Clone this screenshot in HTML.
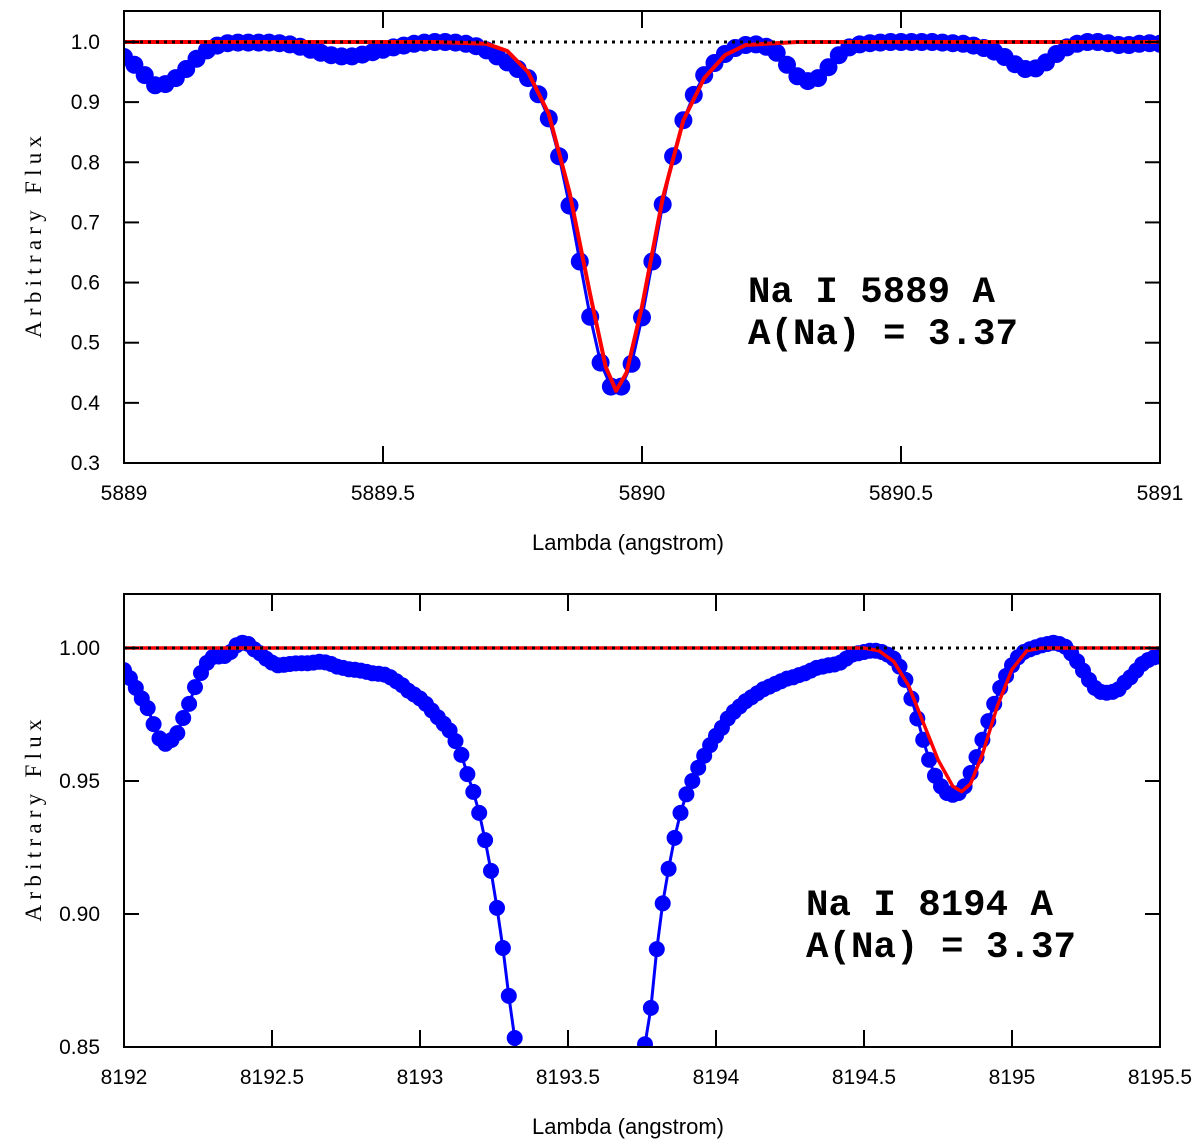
<!DOCTYPE html>
<html><head><meta charset="utf-8"><style>
html,body{margin:0;padding:0;background:#fff;overflow:hidden;width:1200px;height:1146px;}
svg{display:block;}
</style></head>
<body>
<svg id="chart" width="1200" height="1146" viewBox="0 0 1200 1146" xmlns="http://www.w3.org/2000/svg"></svg>
<script>
// ---------- TOP PANEL DATA ----------
const topWave = [];
const topStart = 5889.00, topStep = 0.02;
const topFlux = [0.975,0.962,0.945,0.928,0.93,0.94,0.955,0.972,0.986,0.994,
0.998,0.999,0.999,0.999,0.999,0.998,0.996,0.992,0.987,0.982,
0.978,0.976,0.976,0.979,0.983,0.987,0.991,0.994,0.997,0.999,
1.000,1.000,0.999,0.997,0.993,0.986,0.976,0.966,0.955,0.94,
0.913,0.873,0.81,0.728,0.635,0.543,0.467,0.427,0.427,0.465,
0.542,0.635,0.73,0.81,0.87,0.912,0.945,0.965,0.98,0.99,
0.995,0.996,0.992,0.982,0.962,0.943,0.935,0.94,0.958,0.978,
0.991,0.996,0.998,0.999,1.0,1.0,1.0,1.0,1.0,0.999,
0.998,0.997,0.994,0.99,0.984,0.975,0.963,0.955,0.956,0.966,
0.98,0.991,0.997,1.0,1.0,0.998,0.995,0.995,0.997,0.998,0.997];
for (let i = 0; i < topFlux.length; i++) topWave.push(+(topStart + i * topStep).toFixed(2));
const topModelWave = [5889.0,5889.6,5889.7,5889.74,5889.78,5889.82,5889.86,5889.90,5889.93,5889.95,5889.97,5890.0,5890.04,5890.08,5890.12,5890.16,5890.2,5890.3,5891.0];
const topModelFlux = [1,1,0.997,0.985,0.95,0.88,0.75,0.58,0.46,0.42,0.45,0.56,0.74,0.87,0.94,0.978,0.995,1,1];
const topXTicks = [5889,5889.5,5890,5890.5,5891];
const topXTickLabels = ["5889","5889.5","5890","5890.5","5891"];
const topYTicks = [0.3,0.4,0.5,0.6,0.7,0.8,0.9,1.0];
const topYTickLabels = ["0.3","0.4","0.5","0.6","0.7","0.8","0.9","1.0"];

// ---------- BOTTOM PANEL DATA ----------
const botWave = [];
const botStart = 8192.00, botStep = 0.02;
const botFlux = [0.9917,0.9887,0.985,0.981,0.9774,0.9714,0.966,0.964,0.9654,0.968,
0.9737,0.979,0.9853,0.9906,0.9944,0.9966,0.9968,0.997,0.9985,1.001,
1.002,1.0015,0.9995,0.998,0.996,0.9945,0.9935,0.9937,0.994,0.9942,
0.9943,0.9943,0.9945,0.9948,0.9946,0.994,0.993,0.9925,0.992,0.9918,
0.9915,0.991,0.9905,0.9903,0.99,0.989,0.9875,0.986,0.984,0.9825,
0.981,0.979,0.9765,0.974,0.9715,0.969,0.965,0.9598,0.9526,0.9459,
0.938,0.9278,0.9162,0.9023,0.8872,0.8692,0.8534,0.835,0.81,0.78,
0.74,0.70,0.66,0.62,0.59,0.57,0.56,0.555,0.56,0.575,
0.60,0.635,0.675,0.715,0.755,0.79,0.815,0.835,0.851,0.8647,
0.8868,0.904,0.917,0.9286,0.938,0.945,0.950,0.955,0.9595,0.9635,
0.967,0.970,0.9735,0.976,0.978,0.980,0.9815,0.983,0.9845,0.9855,
0.9865,0.9875,0.9885,0.989,0.9898,0.9905,0.9915,0.9925,0.993,0.9935,
0.9938,0.9945,0.996,0.9975,0.998,0.9985,0.999,0.999,0.9985,0.9975,
0.996,0.993,0.988,0.981,0.9735,0.9655,0.958,0.952,0.948,0.9455,
0.9448,0.9455,0.948,0.953,0.959,0.9655,0.9725,0.979,0.985,0.9895,
0.9935,0.9965,0.9985,0.9995,1.0003,1.001,1.0015,1.002,1.0015,1.0005,
0.998,0.995,0.9915,0.988,0.985,0.9835,0.9832,0.9835,0.9845,0.987,
0.989,0.9915,0.994,0.9955,0.9965,0.9968];
for (let i = 0; i < botFlux.length; i++) botWave.push(+(botStart + i * botStep).toFixed(2));
const botModelWave = [8192,8194.5,8194.55,8194.6,8194.65,8194.7,8194.75,8194.8,8194.83,8194.86,8194.9,8194.95,8195.0,8195.05,8195.1,8195.5];
const botModelFlux = [1,1,0.999,0.995,0.986,0.972,0.958,0.948,0.946,0.949,0.96,0.978,0.992,0.999,1,1];
const botXTicks = [8192,8192.5,8193,8193.5,8194,8194.5,8195,8195.5];
const botXTickLabels = ["8192","8192.5","8193","8193.5","8194","8194.5","8195","8195.5"];
const botYTicks = [0.85,0.90,0.95,1.00];
const botYTickLabels = ["0.85","0.90","0.95","1.00"];

const NS = "http://www.w3.org/2000/svg";
const svg = document.getElementById("chart");
function mk(tag, attrs, parent) {
  const e = document.createElementNS(NS, tag);
  for (const k in attrs) e.setAttribute(k, attrs[k]);
  (parent || svg).appendChild(e);
  return e;
}
const SANS = "font-family:'Liberation Sans',sans-serif";
const SERIF = "font-family:'Liberation Serif',serif";
const MONO = "font-family:'Liberation Mono',monospace;font-weight:bold";

function panel(cfg) {
  const g = mk("g", {});
  
  
  const L = 124, R = 1160, T = cfg.top, B = cfg.bottom;
  const sx = v => L + (v - cfg.xmin) / (cfg.xmax - cfg.xmin) * (R - L);
  const sy = v => B - (v - cfg.ymin) / (cfg.ymax - cfg.ymin) * (B - T);
  const clipId = cfg.name + "-clip";
  const defs = mk("defs", {}, g);
  const cp = mk("clipPath", {id: clipId}, defs);
  mk("rect", {x: L, y: T, width: R - L, height: B - T}, cp);
  const plot = mk("g", {"clip-path": "url(#" + clipId + ")"}, g);

  let d = "";
  cfg.wave.forEach((w, i) => { d += (i ? "L" : "M") + sx(w).toFixed(1) + "," + sy(cfg.flux[i]).toFixed(1); });
  const line = mk("path", {d: d, fill: "none", stroke: "#0000ff", "stroke-width": 3}, plot);
  
  
  const pts = mk("g", {fill: "#0000ff"}, plot);
  
  
  cfg.wave.forEach((w, i) => {
    const c = mk("circle", {cx: sx(w).toFixed(1), cy: sy(cfg.flux[i]).toFixed(1), r: cfg.r}, pts);
    
    
  });
  let dm = "";
  cfg.mwave.forEach((w, i) => { dm += (i ? "L" : "M") + sx(w).toFixed(1) + "," + sy(cfg.mflux[i]).toFixed(1); });
  const ml = mk("path", {d: dm, fill: "none", stroke: "#ff0000", "stroke-width": cfg.mw, "stroke-linejoin": "round"}, plot);
  
  
  const cl = mk("line", {x1: L, x2: R, y1: sy(1), y2: sy(1), stroke: "#000", "stroke-width": 3, "stroke-dasharray": "3,5"}, plot);
  
  

  const fr = mk("rect", {x: L, y: T, width: R - L, height: B - T, fill: "none", stroke: "#000", "stroke-width": 2}, g);
  
  
  cfg.xt.forEach((v, i) => {
    const x = sx(v);
    mk("line", {x1: x, x2: x, y1: B, y2: B - 17, stroke: "#000", "stroke-width": 2}, g);
    mk("line", {x1: x, x2: x, y1: T, y2: T + 17, stroke: "#000", "stroke-width": 2}, g);
    const t = mk("text", {x: x, y: B + 37, "font-size": 21, "text-anchor": "middle", style: SANS}, g);
    t.textContent = cfg.xl[i];
    
    
  });
  cfg.yt.forEach((v, i) => {
    const y = sy(v);
    mk("line", {x1: L, x2: L + 15, y1: y, y2: y, stroke: "#000", "stroke-width": 2}, g);
    mk("line", {x1: R, x2: R - 15, y1: y, y2: y, stroke: "#000", "stroke-width": 2}, g);
    const t = mk("text", {x: L - 24, y: y + 7, "font-size": 21, "text-anchor": "end", style: SANS}, g);
    t.textContent = cfg.yl[i];
    
    
  });
  const xt = mk("text", {x: 628, y: B + 87, "font-size": 22, "text-anchor": "middle", style: SANS}, g);
  xt.textContent = "Lambda (angstrom)";
  
  
  const yc = (T + B) / 2;
  const yt = mk("text", {x: 0, y: 0, "font-size": 23, "text-anchor": "middle", style: SERIF, textLength: 202, lengthAdjust: "spacing", transform: "translate(41," + yc + ") rotate(-90)"}, g);
  yt.textContent = "Arbitrary Flux";
  
  
  cfg.ann.forEach((a, i) => {
    const t = mk("text", {x: cfg.annX, y: cfg.annY + i * 42, "font-size": 37, style: MONO, textLength: a.len, lengthAdjust: "spacingAndGlyphs"}, g);
    t.textContent = a.txt;
    
    
  });
}

panel({name: "top-panel", top: 11, bottom: 463, xmin: 5889, xmax: 5891, ymin: 0.3, ymax: 1.0 + 31 / 602,
  wave: topWave, flux: topFlux, mwave: topModelWave, mflux: topModelFlux, r: 9, mw: 4,
  xt: topXTicks, xl: topXTickLabels, yt: topYTicks, yl: topYTickLabels,
  annX: 748, annY: 302, ann: [{txt: "Na I 5889 A", len: 247}, {txt: "A(Na) = 3.37", len: 270}]});
panel({name: "bottom-panel", top: 594, bottom: 1047, xmin: 8192, xmax: 8195.5, ymin: 0.85, ymax: 1.0 + 54 / 133 * 0.05,
  wave: botWave, flux: botFlux, mwave: botModelWave, mflux: botModelFlux, r: 8, mw: 3.5,
  xt: botXTicks, xl: botXTickLabels, yt: botYTicks, yl: botYTickLabels,
  annX: 806, annY: 915, ann: [{txt: "Na I 8194 A", len: 247}, {txt: "A(Na) = 3.37", len: 270}]});
</script>
</body></html>
